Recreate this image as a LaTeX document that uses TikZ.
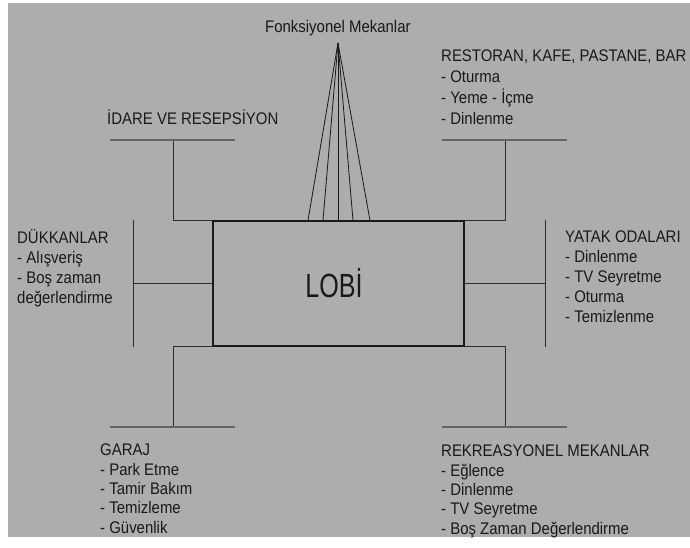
\documentclass[tikz,border=0pt]{standalone}
\usepackage{fontspec}
\setmainfont{Liberation Sans}
\newfontfamily\narrowfont{Liberation Sans}[FakeStretch=0.89]
\newfontfamily\lobifont{Liberation Sans}[FakeStretch=0.75]
\usetikzlibrary{calc, positioning}
\definecolor{paper}{RGB}{173,173,173}
\definecolor{shelfgray}{RGB}{100,100,100}
\definecolor{ink}{RGB}{25,25,25}
\definecolor{wiregray}{RGB}{45,45,45}

\tikzset{
  lbl/.style={font=\narrowfont\fontsize{16.8}{20}\selectfont, text=ink, align=left, inner sep=0pt, anchor=base west},
  wire/.style={draw=wiregray, line width=1pt},
  shelf/.style={draw=shelfgray, line width=2pt},
}

\begin{document}
\begin{tikzpicture}[x=1pt,y=-1pt]
        \fill[white] (0,0) rectangle (690,547);
        \fill[paper] (8,3) rectangle (690,537);
        \useasboundingbox (0,0) rectangle (690,547);
        \node[draw=ink, line width=1.1pt, minimum width=251pt, minimum height=125pt, inner sep=0pt] (lobi) at (338.5,283.5) {};
        \node[font=\lobifont\fontsize{33.5}{36}\selectfont, text=ink, inner sep=0pt, anchor=base] (lobitxt) at (334,297) {LOBİ};
        \coordinate (idare) at (173,140);
        \coordinate (resto) at (505,140);
        \coordinate (garaj) at (173,427);
        \coordinate (rekre) at (505,427);
        \coordinate (dukkan) at (133,283.5);
        \coordinate (yatak) at (545,283.5);
        \coordinate (apex) at (338,43);
        \draw[wire] (idare) |- (lobi.north west);
        \draw[wire] (resto) |- (lobi.north east);
        \draw[wire] (garaj) |- (lobi.south west);
        \draw[wire] (rekre) |- (lobi.south east);
        \draw[wire] (dukkan) -- (lobi.west);
        \draw[wire] (yatak) -- (lobi.east);
        \draw[wire] (dukkan |- lobi.north) -- (dukkan |- lobi.south);
        \draw[wire] (yatak |- lobi.north) -- (yatak |- lobi.south);
        \foreach \c in {idare,resto,garaj,rekre}
          \draw[shelf] ([xshift=-63pt]\c) -- ([xshift=62pt]\c);
        \foreach \d in {-30.5,-15.5,-0.5,14.5,31.5}
          \draw[ink, line width=0.8pt] (apex) -- ([xshift=\d pt]lobi.north);
        % multi-line labels sit on the baseline of their last line
        \node[lbl] (fonk) at (265,32) {Fonksiyonel Mekanlar};
        \node[lbl] (idaretxt) at (107,124) {İDARE VE RESEPSİYON};
        \node[lbl, font=\narrowfont\fontsize{16.8}{20.7}\selectfont] (restotxt) at (441,124)
          {RESTORAN, KAFE, PASTANE, BAR\\- Oturma\\- Yeme - İçme\\- Dinlenme};
        \node[lbl, font=\narrowfont\fontsize{16.8}{19.7}\selectfont] (dukkantxt) at (17,303)
          {DÜKKANLAR\\- Alışveriş\\- Boş zaman\\değerlendirme};
        \node[lbl] (yataktxt) at (565,322)
          {YATAK ODALARI\\- Dinlenme\\- TV Seyretme\\- Oturma\\- Temizlenme};
        \node[lbl, font=\narrowfont\fontsize{16.8}{19.3}\selectfont] (garajtxt) at (100,533)
          {GARAJ\\- Park Etme\\- Tamir Bakım\\- Temizleme\\- Güvenlik};
        \node[lbl, font=\narrowfont\fontsize{16.8}{19.3}\selectfont] (rekretxt) at (441,534)
          {REKREASYONEL MEKANLAR\\- Eğlence\\- Dinlenme\\- TV Seyretme\\- Boş Zaman Değerlendirme};
      \end{tikzpicture}
\end{document}
